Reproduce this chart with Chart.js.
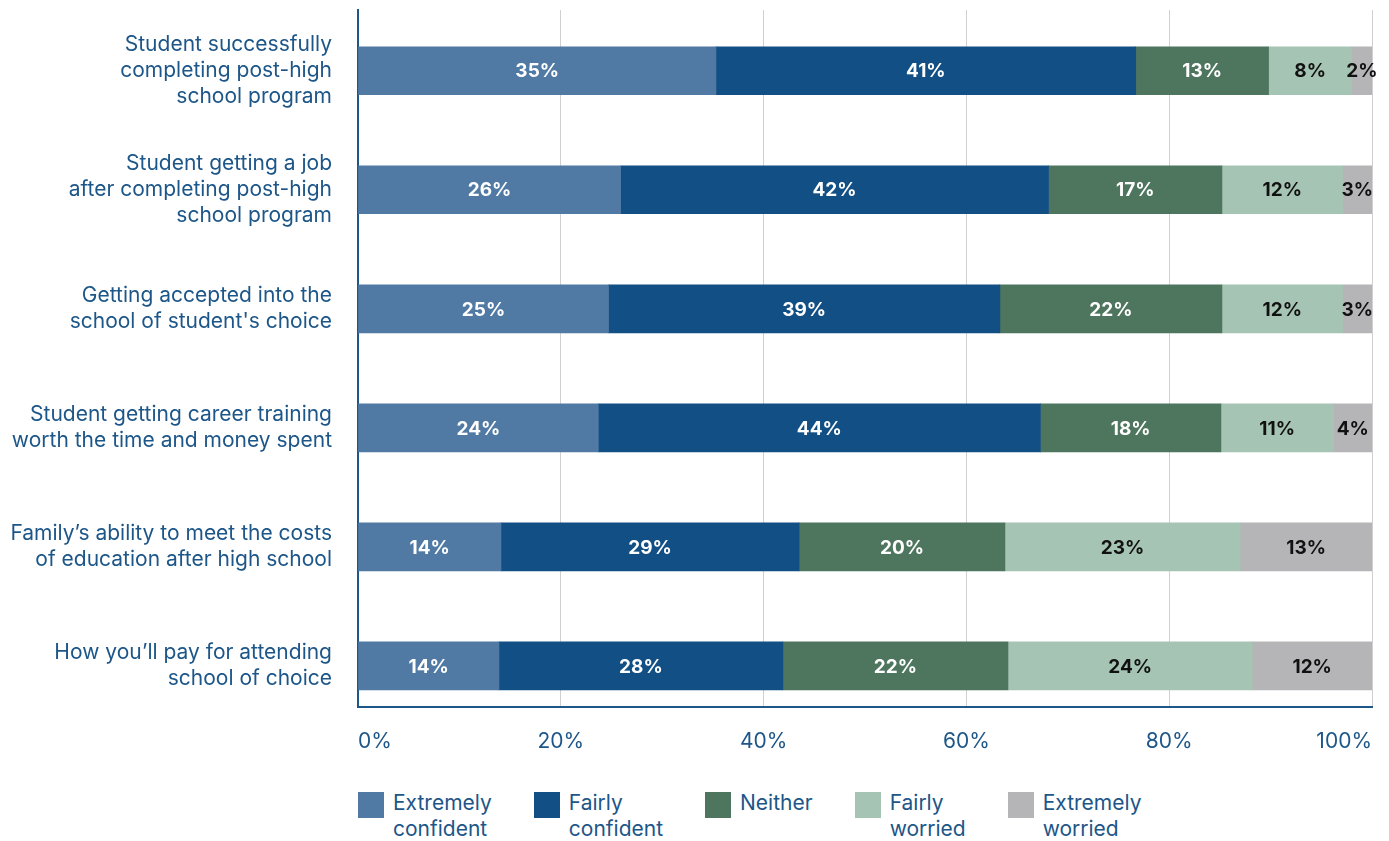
<!DOCTYPE html>
<html>
<head>
<meta charset="utf-8">
<title>Confidence about education after high school</title>
<script src="https://cdn.jsdelivr.net/npm/chart.js@4.4.0/dist/chart.umd.min.js"></script>
<style>
  body { margin: 0; background: #fff; font-family: Inter, "Noto Sans", sans-serif; }
  #wrap { position: relative; width: 1389px; height: 770px; }
  #legend { position: absolute; left: 358px; top: 790px; display: flex; color: #1d5688; font-size: 21px; line-height: 26px; }
  #legend .item { display: flex; align-items: flex-start; margin-right: 42px; }
  #legend .box { width: 26px; height: 26px; margin: 2px 9px 0 0; flex: none; }
  #legend .text { width: min-content; }
</style>
</head>
<body>
<div id="wrap"><canvas id="chart"></canvas></div>
<div id="legend"></div>
<script>
// survey rows, top to bottom (each entry is the wrapped label lines)
const categories = [
  ["Student successfully", "completing post-high", "school program"],
  ["Student getting a job", "after completing post-high", "school program"],
  ["Getting accepted into the", "school of student's choice"],
  ["Student getting career training", "worth the time and money spent"],
  ["Family\u2019s ability to meet the costs", "of education after high school"],
  ["How you\u2019ll pay for attending", "school of choice"]
];
const series = ["Extremely confident", "Fairly confident", "Neither", "Fairly worried", "Extremely worried"];

// percentages per row
const extremelyConfident = [35.3, 25.9, 24.7, 23.7, 14.1, 13.9];
const fairlyConfident = [41.4, 42.2, 38.6, 43.6, 29.4, 28.0];
const neither = [13.1, 17.1, 21.9, 17.8, 20.3, 22.2];
const fairlyWorried = [8.2, 11.9, 11.9, 11.1, 23.2, 24.1];
const extremelyWorried = [2.0, 2.9, 2.9, 3.8, 13.0, 11.8];

const xTicks = [0, 20, 40, 60, 80, 100];

const values = [extremelyConfident, fairlyConfident, neither, fairlyWorried, extremelyWorried];
const colors = ["#507aa3", "#124f84", "#4e755e", "#a6c4b4", "#b5b5b7"];
const labelColors = ["#ffffff", "#ffffff", "#ffffff", "#111111", "#111111"];
const textBlue = "#1d5688";

// percent labels centred in each segment
const valueLabels = {
  id: "valueLabels",
  afterDatasetsDraw(chart) {
    const ctx = chart.ctx;
    ctx.save();
    ctx.font = "bold 19px Inter";
    ctx.textAlign = "center";
    ctx.textBaseline = "middle";
    chart.data.datasets.forEach((ds, i) => {
      chart.getDatasetMeta(i).data.forEach((bar, j) => {
        const { x, y, base } = bar.getProps(["x", "y", "base"], true);
        ctx.fillStyle = labelColors[i];
        ctx.fillText(Math.round(ds.data[j]) + "%", (x + base) / 2, y + 1);
      });
    });
    ctx.restore();
  }
};

// keep the plot edges fixed regardless of label sizes
function noEdgePadding(scale) {
  scale.paddingTop = 0;
  scale.paddingBottom = 0;
  scale.paddingLeft = 0;
  scale.paddingRight = 0;
}

const ctx = document.getElementById("chart").getContext("2d");
new Chart(ctx, {
  type: "bar",
  data: {
    labels: categories.map((_, i) => i),
    datasets: series.map((name, i) => ({
      label: name,
      data: values[i],
      backgroundColor: colors[i],
      barThickness: 48
    }))
  },
  options: {
    indexAxis: "y",
    responsive: true,
    maintainAspectRatio: false,
    animation: false,
    layout: { padding: { top: 10, right: 17, left: 0, bottom: 0 } },
    plugins: { legend: { display: false }, tooltip: { enabled: false } },
    scales: {
      x: {
        stacked: true,
        min: 0,
        max: 100,
        afterBuildTicks: (scale) => { scale.ticks = xTicks.map((v) => ({ value: v })); },
        afterFit: (scale) => { scale.height = 63; noEdgePadding(scale); },
        ticks: {
          callback: (v) => v + "%",
          align: "inner",
          padding: 22,
          color: textBlue,
          font: { family: "Inter", size: 21 }
        },
        grid: { color: "#d0d0d0", lineWidth: 1, drawTicks: false },
        border: { display: true, color: textBlue, width: 2 }
      },
      y: {
        type: "linear",
        stacked: true,
        reverse: true,
        offset: false,
        min: -0.51,
        max: 5.345,
        afterFit: (scale) => { scale.width = 358; noEdgePadding(scale); },
        ticks: {
          stepSize: 1,
          autoSkip: false,
          callback: (v) => (Number.isInteger(v) ? categories[v] : ""),
          padding: 26,
          color: textBlue,
          font: { family: "Inter", size: 21, lineHeight: 1.22 }
        },
        grid: { display: false, drawTicks: false },
        border: { display: true, color: textBlue, width: 2 }
      }
    }
  },
  plugins: [valueLabels]
});

// legend below the chart
const legend = document.getElementById("legend");
series.forEach((name, i) => {
  const item = document.createElement("div");
  item.className = "item";
  item.innerHTML = `<span class="box" style="background:${colors[i]}"></span><span class="text">${name}</span>`;
  legend.appendChild(item);
});
</script>
</body>
</html>
